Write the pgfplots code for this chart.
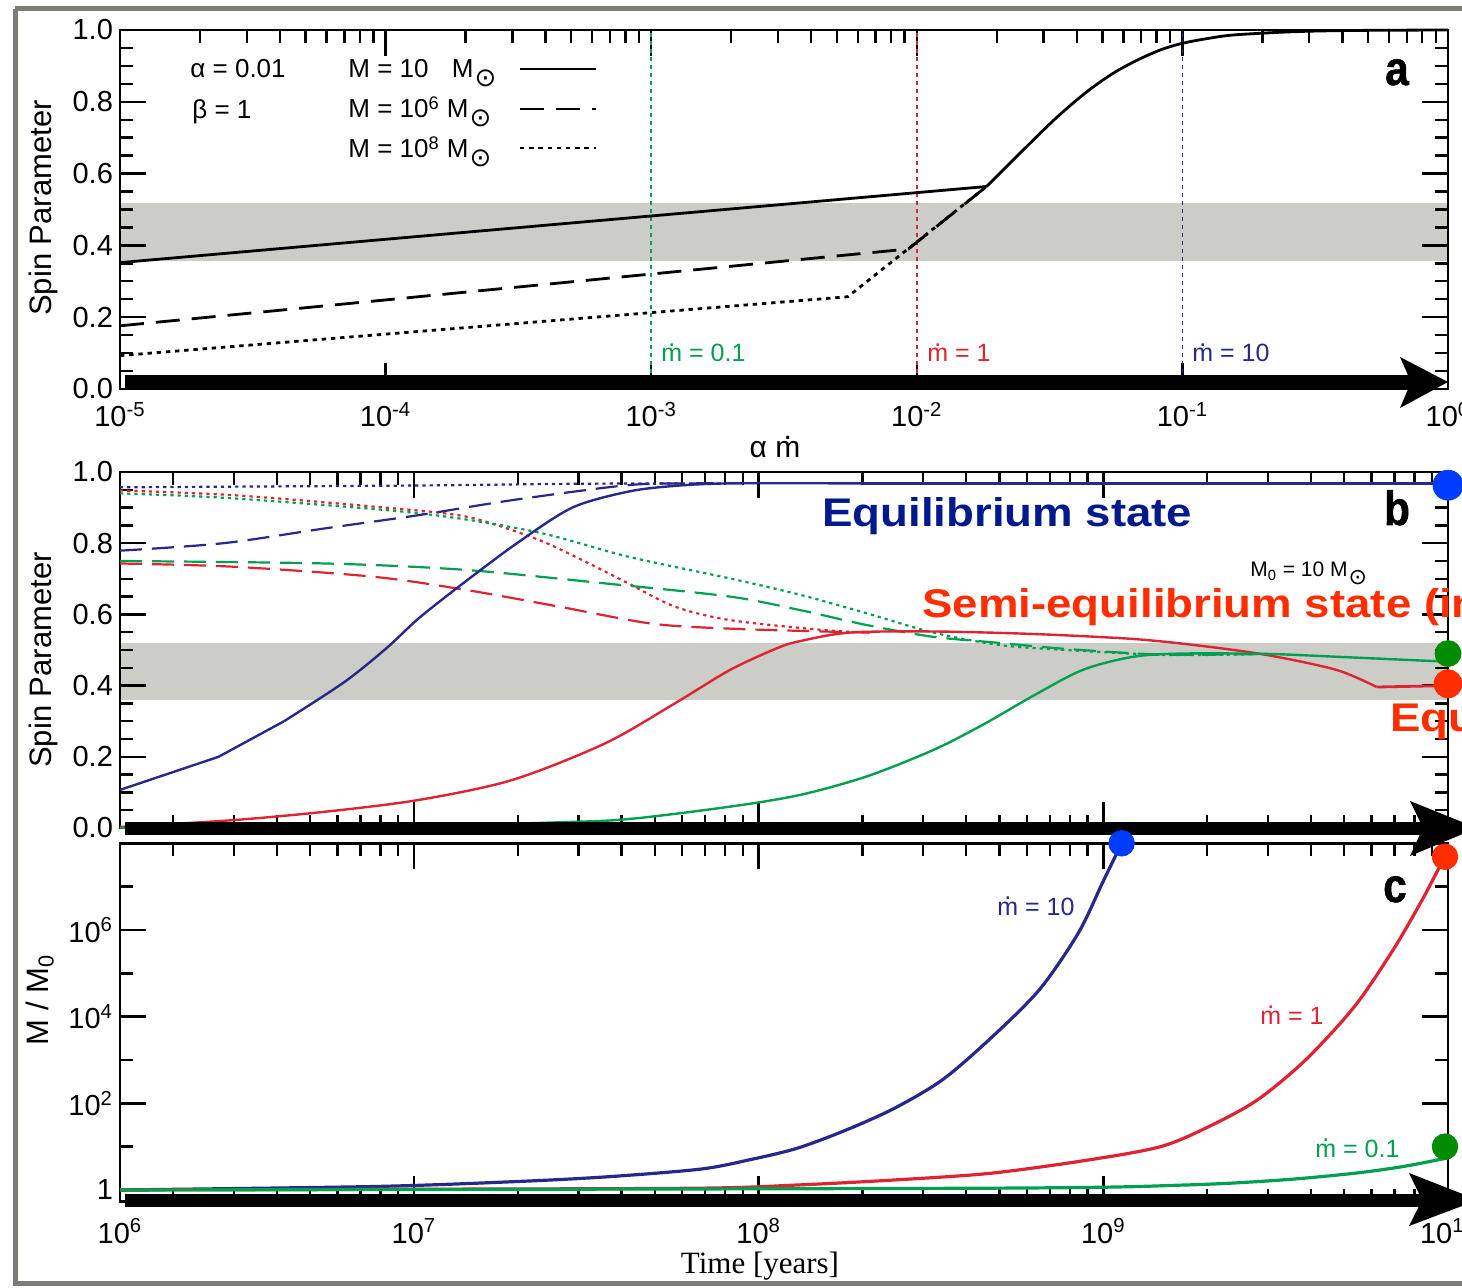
\documentclass[border=0pt]{standalone}
\usepackage{pgfplots}
\pgfplotsset{compat=1.18}
\usepackage{fontspec}
\setmainfont{Liberation Sans}
\newfontfamily\seriffont{Liberation Serif}
\newfontfamily\djv{DejaVu Sans}
\newfontfamily\bsans[FakeStretch=1.14]{Liberation Sans Bold}
\newfontfamily\heavy[FakeStretch=0.88,FakeBold=1.2]{Liberation Sans Bold}

\definecolor{navyl}{RGB}{40,40,140}
\definecolor{redl}{RGB}{222,35,50}
\definecolor{greenl}{RGB}{0,160,80}
\definecolor{eqblue}{RGB}{0,25,140}
\definecolor{semired}{RGB}{255,45,0}
\definecolor{dotblue}{RGB}{0,60,255}
\definecolor{dotgreen}{RGB}{0,140,0}
\definecolor{dotred}{RGB}{255,45,0}
\definecolor{band}{RGB}{205,205,200}
\definecolor{framec}{RGB}{125,125,120}

\newcommand{\mdot}{\setbox0\hbox{m}\hbox to\wd0{\hss\raisebox{0.62em}{.}\hss}\kern-\wd0 m}
\newcommand{\msun}[1][13]{\kern0.5pt\raisebox{-0.34em}{\fontsize{#1}{#1}\djv ⊙}}

\pgfplotsset{
  every axis/.append style={
    scale only axis, width=664pt, set layers, clip=false,
    axis line style={line width=1.3pt},
    tick style={line width=1.2pt, black},
    tick align=inside, major tick length=13pt, minor tick length=6.5pt,
    tick label style={font=\fontsize{14.5}{16}\selectfont, black},
  },
}

\begin{document}
\begin{tikzpicture}

% ---------------- panel a ----------------
\begin{axis}[at={(60pt,-194.5pt)}, anchor=south west, height=179.5pt,
  xmode=log, xmin=1e-5, xmax=1, ymin=0, ymax=1,
  xtick={1e-5,1e-4,1e-3,1e-2,1e-1,1},
  xticklabels={10\textsuperscript{-5},10\textsuperscript{-4},10\textsuperscript{-3},10\textsuperscript{-2},10\textsuperscript{-1},10\textsuperscript{0}},
  xticklabel style={yshift=-3pt},
  minor xtick={2e-5,3e-5,4e-5,5e-5,6e-5,7e-5,8e-5,9e-5,2e-4,3e-4,4e-4,5e-4,6e-4,7e-4,8e-4,9e-4,2e-3,3e-3,4e-3,5e-3,6e-3,7e-3,8e-3,9e-3,0.02,0.03,0.04,0.05,0.06,0.07,0.08,0.09,0.2,0.3,0.4,0.5,0.6,0.7,0.8,0.9},
  ytick={0,0.2,0.4,0.6,0.8,1},
  yticklabels={0.0,0.2,0.4,0.6,0.8,1.0},
  minor ytick={0.05,0.1,0.15,0.25,0.3,0.35,0.45,0.5,0.55,0.65,0.7,0.75,0.85,0.9,0.95},
]
\addplot[fill=band, draw=none, on layer=axis background] coordinates {(1e-5,0.357) (1,0.357) (1,0.517) (1e-5,0.517)};
\addplot[greenl, line width=0.9pt, dash pattern=on 2pt off 2pt] coordinates {(1e-3,0) (1e-3,1)};
\addplot[redl, line width=0.9pt, dash pattern=on 2pt off 2pt] coordinates {(1e-2,0) (1e-2,1)};
\addplot[navyl, line width=0.9pt, dash pattern=on 2pt off 2pt] coordinates {(1e-1,0) (1e-1,1)};
% M = 10 Msun
\addplot[black, line width=1.4pt] coordinates {(1e-5,0.352) (0.0183,0.564)};
\addplot[black, line width=1.4pt, smooth] coordinates {(0.0183,0.564) (0.0291,0.712) (0.0355,0.772) (0.0444,0.832) (0.055,0.88) (0.0676,0.916) (0.083,0.945) (0.1,0.963) (0.126,0.977) (0.155,0.986) (0.224,0.993) (0.316,0.997) (0.5,0.999) (1,1.0)};
% M = 1e6 Msun
\addplot[black, line width=1.4pt, dash pattern=on 12pt off 6pt] coordinates {(1e-5,0.176) (0.0093,0.39) (0.0183,0.564)};
% M = 1e8 Msun
\addplot[black, line width=1.4pt, dash pattern=on 2.2pt off 2.4pt] coordinates {(1e-5,0.093) (0.0055,0.257) (0.0183,0.564)};
\end{axis}

\begin{scope}[x=0.5pt,y=-0.5pt]
\fill[black] (125,375) rectangle (1412,389);
\fill[black] (1400,357) -- (1448,382) -- (1400,408) -- (1411,382) -- cycle;
\end{scope}

% ---------------- panel b ----------------
\begin{axis}[at={(60pt,-414pt)}, anchor=south west, height=178pt,
  xmode=log, xmin=1.403e6, xmax=1e10, ymin=0, ymax=1,
  xtick={1e7,1e8,1e9,1e10}, xticklabels={},
  minor xtick={2e6,3e6,4e6,5e6,6e6,7e6,8e6,9e6,2e7,3e7,4e7,5e7,6e7,7e7,8e7,9e7,2e8,3e8,4e8,5e8,6e8,7e8,8e8,9e8,2e9,3e9,4e9,5e9,6e9,7e9,8e9,9e9},
  ytick={0,0.2,0.4,0.6,0.8,1},
  yticklabels={0.0,0.2,0.4,0.6,0.8,1.0},
  minor ytick={0.05,0.1,0.15,0.25,0.3,0.35,0.45,0.5,0.55,0.65,0.7,0.75,0.85,0.9,0.95},
]
\addplot[fill=band, draw=none, on layer=axis background] coordinates {(1.403e6,0.36) (1e10,0.36) (1e10,0.52) (1.403e6,0.52)};
% dotted (initial spin high)
\addplot[navyl, line width=1.1pt, dash pattern=on 1.6pt off 2pt, smooth] coordinates {(1.403e6,0.957) (1e7,0.962) (3e7,0.967) (8e7,0.968)};
\addplot[redl, line width=1.1pt, dash pattern=on 1.6pt off 2pt, smooth] coordinates {(1.403e6,0.948) (2.98e6,0.935) (7.59e6,0.903) (1.41e7,0.875) (2.25e7,0.813) (3.07e7,0.753) (4.19e7,0.687) (5.71e7,0.622) (8.26e7,0.584) (1.54e8,0.556) (2.1e8,0.549)};
\addplot[greenl, line width=1.1pt, dash pattern=on 1.6pt off 2pt, smooth] coordinates {(1.403e6,0.94) (2.98e6,0.926) (1.035e7,0.884) (2.25e7,0.832) (4.19e7,0.762) (8.26e7,0.701) (1.32e8,0.655) (2.06e8,0.603) (3.21e8,0.549) (5e8,0.514) (7.8e8,0.5) (1.53e9,0.486) (3e9,0.489)};
% dashed (intermediate)
\addplot[navyl, line width=1.1pt, dash pattern=on 11pt off 5pt, smooth] coordinates {(1.403e6,0.779) (2.8e6,0.80) (5.55e6,0.842) (1.035e7,0.879) (1.93e7,0.921) (4.17e7,0.963) (6.5e7,0.968) (8e7,0.968)};
\addplot[redl, line width=1.1pt, dash pattern=on 11pt off 5pt, smooth] coordinates {(1.403e6,0.743) (2.98e6,0.734) (7.59e6,0.706) (1.41e7,0.669) (2.63e7,0.622) (4.9e7,0.574) (8.26e7,0.56) (1.54e8,0.552) (2.1e8,0.549)};
\addplot[greenl, line width=1.1pt, dash pattern=on 11pt off 5pt, smooth] coordinates {(1.403e6,0.75) (5.56e6,0.743) (1.41e7,0.725) (3.59e7,0.687) (8.26e7,0.65) (1.32e8,0.612) (2.06e8,0.57) (3.21e8,0.537) (5e8,0.52) (7.8e8,0.503) (1.5e9,0.487) (3e9,0.489)};
% solid (initial spin low)
\addplot[navyl, line width=1.2pt] coordinates {(1.403e6,0.107) (2.71e6,0.2) (4.2e6,0.3)};
\addplot[navyl, line width=1.2pt, smooth] coordinates {(4.2e6,0.3) (6.28e6,0.41) (8.32e6,0.505) (1.035e7,0.59) (1.4e7,0.69) (1.99e7,0.8) (2.88e7,0.9) (4.19e7,0.945) (5.71e7,0.961) (8.26e7,0.968) (2e8,0.968)};
\addplot[navyl, line width=1.2pt] coordinates {(2e8,0.968) (1e10,0.968)};
\addplot[redl, line width=1.2pt, smooth] coordinates {(1.403e6,0.003) (2.98e6,0.022) (5.56e6,0.046) (1.035e7,0.079) (1.93e7,0.135) (3.59e7,0.238) (5.71e7,0.35) (8.26e7,0.444) (1.13e8,0.505) (1.32e8,0.525) (1.84e8,0.549) (3.21e8,0.552) (6.25e8,0.545) (1.22e9,0.531) (1.91e9,0.512) (2.98e9,0.486) (4.75e9,0.444) (6.21e9,0.396)};
\addplot[redl, line width=1.4pt] coordinates {(6.21e9,0.396) (1e10,0.40)};
\addplot[greenl, line width=1.2pt, smooth] coordinates {(1.403e6,0.0) (1e7,0.005) (2.63e7,0.016) (4.19e7,0.025) (8.26e7,0.06) (1.32e8,0.093) (2.06e8,0.145) (3.21e8,0.219) (4.47e8,0.29) (6.25e8,0.371) (8.71e8,0.444) (1.22e9,0.481) (1.7e9,0.49) (2.98e9,0.489) (4.75e9,0.481) (1e10,0.467)};
\addplot[only marks, mark=*, mark size=7.5pt, color=dotblue] coordinates {(1e10,0.963)};
\addplot[only marks, mark=*, mark size=6.5pt, color=dotgreen] coordinates {(1e10,0.49)};
\addplot[only marks, mark=*, mark size=7pt, color=dotred] coordinates {(1e10,0.405)};
\end{axis}

\begin{scope}[x=0.5pt,y=-0.5pt]
\fill[black] (125,821.5) rectangle (1424,834.5);
\fill[black] (1410,801) -- (1477,828) -- (1410,856) -- (1423,828) -- cycle;
\end{scope}

% ---------------- panel c ----------------
\begin{axis}[at={(60pt,-600.85pt)}, anchor=south west, height=179.2pt,
  xmode=log, ymode=log, xmin=1.403e6, xmax=1e10, ymin=0.536, ymax=1e8,
  xtick={1e7,1e8,1e9,1e10},
  xticklabels={10\textsuperscript{7},10\textsuperscript{8},10\textsuperscript{9},10\textsuperscript{10}},
  extra x ticks={1.403e6}, extra x tick labels={10\textsuperscript{6}},
  xticklabel style={yshift=-5pt},
  minor xtick={2e6,3e6,4e6,5e6,6e6,7e6,8e6,9e6,2e7,3e7,4e7,5e7,6e7,7e7,8e7,9e7,2e8,3e8,4e8,5e8,6e8,7e8,8e8,9e8,2e9,3e9,4e9,5e9,6e9,7e9,8e9,9e9},
  ytick={1,100,1e4,1e6},
  yticklabels={1,10\textsuperscript{2},10\textsuperscript{4},10\textsuperscript{6}},
  minor ytick={10,1000,1e5,1e7},
]
\addplot[navyl, line width=1.6pt, smooth] coordinates {(1.403e6,1.0) (7.59e6,1.20) (1.93e7,1.55) (3.59e7,2.0) (6.76e7,3.02) (9.33e7,4.90) (1.29e8,9.12) (1.79e8,24.0) (2.47e8,75.9) (3.41e8,347) (4.71e8,3162) (6.52e8,4.17e4) (8.45e8,8.32e5) (9.93e8,1.2e7) (1.094e9,5.89e7) (1.13e9,1e8)};
\addplot[redl, line width=1.6pt, smooth] coordinates {(1.403e6,1.0) (1e7,1.04) (6.76e7,1.10) (1.29e8,1.30) (2.47e8,1.70) (4.71e8,2.43) (9.02e8,4.90) (1.466e9,10.0) (2.02e9,28.8) (2.8e9,120) (3.86e9,1000) (5.35e9,1.7e4) (6.93e9,3.47e5) (8.41e9,4.9e6) (9.57e9,3.47e7) (9.8e9,4.9e7)};
\addplot[greenl, line width=1.6pt, smooth] coordinates {(1.403e6,1.0) (4.71e8,1.10) (1.72e9,1.30) (3.29e9,1.70) (5.35e9,2.43) (7.4e9,3.47) (9.57e9,5.13) (1e10,5.4)};
\end{axis}

\begin{scope}[x=0.5pt,y=-0.5pt]
\fill[black] (125,1194) rectangle (1424,1207);
\fill[black] (1409,1173) -- (1478,1200) -- (1409,1226) -- (1422,1200) -- cycle;
\end{scope}

% dots of panel c drawn on top of arrows
\begin{axis}[at={(60pt,-600.85pt)}, anchor=south west, height=179.2pt,
  xmode=log, ymode=log, xmin=1.403e6, xmax=1e10, ymin=0.536, ymax=1e8,
  hide axis]
\addplot[only marks, mark=*, mark size=6.4pt, color=dotblue] coordinates {(1.13e9,1e8)};
\addplot[only marks, mark=*, mark size=6.4pt, color=dotred] coordinates {(9.8e9,4.9e7)};
\addplot[only marks, mark=*, mark size=6.4pt, color=dotgreen] coordinates {(9.8e9,10)};
\end{axis}

% ---------------- texts ----------------
\begin{scope}[x=0.5pt,y=-0.5pt]
\draw[framec, line width=2.5pt] (15,9) -- (1470,9);
\draw[framec, line width=2.5pt] (15,9) -- (15,1283) -- (1470,1283);

\node[rotate=90, font=\fontsize{15.5}{17}\selectfont] at (43,208) {Spin Parameter};
\node[rotate=90, font=\fontsize{15.5}{17}\selectfont] at (43,660) {Spin Parameter};
\node[rotate=90, font=\fontsize{15.5}{17}\selectfont] at (40,1000) {M / M\textsubscript{0}};
\node[font=\fontsize{15}{17}\selectfont] at (775,447) {α \mdot};
\node[font=\seriffont\fontsize{15.5}{17}\selectfont] at (760,1266) {Time [years]};

% legend panel a
\begin{scope}[every node/.style={anchor=base west, inner sep=0pt, font=\fontsize{13}{15}\selectfont}]
\node at (190,78) {α = 0.01};
\node at (192,119) {β = 1};
\node at (348,78) {M = 10\hspace{0.9em}M\msun};
\node at (348,118) {M = 10\textsuperscript{6} M\msun};
\node at (348,158) {M = 10\textsuperscript{8} M\msun};
\end{scope}
\draw[black, line width=1.4pt] (520,69) -- (596,69);
\draw[black, line width=1.4pt, dash pattern=on 12pt off 6pt] (520,109) -- (596,109);
\draw[black, line width=1.4pt, dash pattern=on 2.2pt off 2.4pt] (520,148) -- (596,148);

\begin{scope}[every node/.style={anchor=base west, inner sep=0pt, font=\fontsize{12.5}{14}\selectfont}]
\node[text=greenl] at (661,362) {\mdot{} = 0.1};
\node[text=redl] at (927,362) {\mdot{} = 1};
\node[text=navyl] at (1192,362) {\mdot{} = 10};
\node[text=navyl] at (997,915) {\mdot{} = 10};
\node[text=redl] at (1260,1024) {\mdot{} = 1};
\node[text=greenl] at (1315,1157) {\mdot{} = 0.1};
\end{scope}

\node[anchor=base west, inner sep=0pt, font=\fontsize{10.5}{12}\selectfont] at (1250,577) {M\textsubscript{0} = 10 M\msun[11]};

\node[anchor=base west, inner sep=0pt, text=eqblue, font=\bsans\fontsize{20}{22}\selectfont] at (822,527) {Equilibrium state};
\node[anchor=base west, inner sep=0pt, text=semired, font=\bsans\fontsize{20}{22}\selectfont] at (922,618) {Semi-equilibrium state (in};
\node[anchor=base west, inner sep=0pt, text=semired, font=\bsans\fontsize{20}{22}\selectfont] at (1390,732) {Equilibrium};

\node[anchor=base, inner sep=0pt, font=\heavy\fontsize{24}{26}\selectfont] at (1397,85) {a};
\node[anchor=base, inner sep=0pt, font=\heavy\fontsize{24}{26}\selectfont] at (1397,525) {b};
\node[anchor=base, inner sep=0pt, font=\heavy\fontsize{24}{26}\selectfont] at (1395,902) {c};
\end{scope}

\pgfresetboundingbox
\path[use as bounding box] (0pt,0pt) rectangle (731pt,-644pt);
\end{tikzpicture}
\end{document}
